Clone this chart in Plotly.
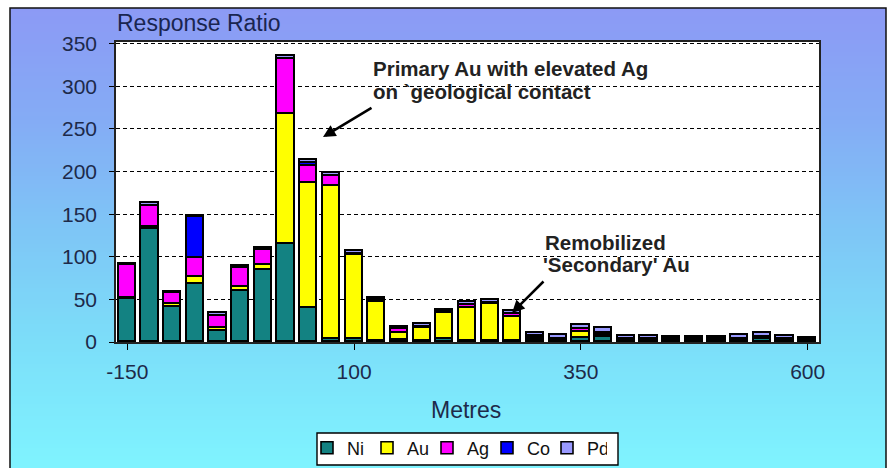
import plotly.graph_objects as go

# Sample positions along the traverse (metres)
metres = [-150, -125, -100, -75, -50, -25, 0, 25, 50, 75, 100, 125, 150, 175, 200,
          225, 250, 275, 300, 325, 350, 375, 400, 425, 450, 475, 500, 525, 550, 575, 600]

# Response ratios per element (stacked)
ni = [51, 133, 41, 68, 13, 60, 84, 115, 40, 3, 3, 1, 2, 1, 4,
      1, 1, 1, 2, 1, 5, 6, 1, 1, 1, 1, 1, 1, 4, 1, 1]
au = [1, 2, 4, 8, 3, 5, 6, 153, 147, 180, 99, 46, 9, 16, 30,
      39, 44, 28, 3, 2, 7, 2, 1, 1, 1, 1, 1, 1, 1, 1, 1]
ag = [38, 25, 12, 23, 15, 22, 18, 64, 19, 12, 1, 2, 4, 1, 1,
      4, 1, 4, 2, 1, 3, 2, 1, 1, 1, 1, 1, 2, 1, 1, 1]
co = [0, 0, 0, 48, 0, 0, 0, 0, 4, 0, 0, 0, 0, 0, 0,
      0, 0, 0, 0, 0, 0, 0, 0, 0, 0, 0, 0, 0, 0, 0, 0]
pd_ = [2, 3, 2, 1, 3, 2, 2, 3, 4, 3, 4, 3, 3, 3, 3,
       3, 3, 3, 4, 4, 5, 6, 4, 4, 3, 3, 3, 4, 4, 4, 2]

series = [("Ni", ni, "#138282"), ("Au", au, "#FFFF00"), ("Ag", ag, "#FF00FF"),
          ("Co", co, "#0000FF"), ("Pd", pd_, "#9999FF")]

y_ticks = [0, 50, 100, 150, 200, 250, 300, 350]
x_ticks = [-150, 100, 350, 600]

W, H = 890, 468
FONT = "Liberation Sans, Arial, sans-serif"
TXT = "#1d2a4a"


def px_x(p):
    return p / W


def px_y(p):
    return 1 - p / H


fig = go.Figure()
for name, vals, color in series:
    fig.add_trace(go.Bar(
        x=metres, y=vals, name=name, width=19,
        marker=dict(color=color, line=dict(color="black", width=1.6)),
    ))

# Background: vertical blue-to-cyan gradient inside a framed panel
stops = [(8, (0x8C, 0x9A, 0xF5)), (120, (0x84, 0xAC, 0xF5)), (230, (0x7E, 0xC6, 0xF6)),
         (340, (0x7C, 0xDE, 0xF9)), (468, (0x7F, 0xF4, 0xFF))]
shapes = []
step = 4
py = 8
while py < H:
    for (a, ca), (b, cb) in zip(stops[:-1], stops[1:]):
        if a <= py <= b:
            t = (py - a) / (b - a)
            c = tuple(round(ca[i] + (cb[i] - ca[i]) * t) for i in range(3))
            break
    shapes.append(dict(type="rect", xref="paper", yref="paper", layer="below",
                       x0=px_x(10), x1=px_x(886), y0=px_y(min(py + step + 1, H)), y1=px_y(py),
                       fillcolor="rgb(%d,%d,%d)" % c, line=dict(width=0)))
    py += step

# White plot area
shapes.append(dict(type="rect", xref="paper", yref="paper", layer="below",
                   x0=px_x(116), x1=px_x(819), y0=px_y(342), y1=px_y(42),
                   fillcolor="white", line=dict(width=0)))
# Legend box (legend entries are drawn on top of it)
shapes.append(dict(type="rect", xref="paper", yref="paper", layer="below",
                   x0=px_x(317), x1=px_x(618), y0=px_y(465), y1=px_y(433),
                   fillcolor="white", line=dict(color="black", width=1.4)))
# Outer frame
shapes.append(dict(type="rect", xref="paper", yref="paper", layer="above",
                   x0=px_x(10), x1=px_x(886), y0=px_y(470), y1=px_y(8),
                   fillcolor="rgba(0,0,0,0)", line=dict(color="#111", width=1.5)))

annotations = [
    dict(text="Response Ratio", xref="paper", yref="paper", x=px_x(115), y=px_y(23),
         xanchor="left", yanchor="middle", showarrow=False,
         font=dict(family=FONT, size=23, color="#1a2550")),
    dict(text="Metres", xref="paper", yref="paper", x=px_x(466), y=px_y(410),
         xanchor="center", yanchor="middle", showarrow=False,
         font=dict(family=FONT, size=23, color=TXT)),
    dict(text="<b>Primary Au with elevated Ag</b>", xref="paper", yref="paper",
         x=px_x(371), y=px_y(68), xanchor="left", yanchor="middle", showarrow=False,
         font=dict(family=FONT, size=20.5, color="#222")),
    dict(text="<b>on `geological contact</b>", xref="paper", yref="paper",
         x=px_x(371), y=px_y(92), xanchor="left", yanchor="middle", showarrow=False,
         font=dict(family=FONT, size=20.5, color="#222")),
    dict(text="<b>Remobilized</b>", xref="paper", yref="paper",
         x=px_x(543), y=px_y(242), xanchor="left", yanchor="middle", showarrow=False,
         font=dict(family=FONT, size=20.5, color="#222")),
    dict(text="<b>'Secondary' Au</b>", xref="paper", yref="paper",
         x=px_x(541), y=px_y(264), xanchor="left", yanchor="middle", showarrow=False,
         font=dict(family=FONT, size=20.5, color="#222")),
    dict(text="", xref="paper", yref="paper", x=px_x(323), y=px_y(137),
         ax=50, ay=-30, showarrow=True, arrowhead=2, arrowsize=1, arrowwidth=2.5,
         arrowcolor="black"),
    dict(text="", xref="paper", yref="paper", x=px_x(512), y=px_y(313),
         ax=33, ay=-33, showarrow=True, arrowhead=2, arrowsize=1, arrowwidth=2.5,
         arrowcolor="black"),
]

fig.update_layout(
    width=W, height=H,
    margin=dict(l=0, r=0, t=0, b=0, autoexpand=False),
    paper_bgcolor="white",
    plot_bgcolor="rgba(0,0,0,0)",
    barmode="stack",
    bargap=0,
    shapes=shapes,
    annotations=annotations,
    showlegend=True,
    legend=dict(orientation="h", x=px_x(457), xanchor="center", y=px_y(448), yanchor="middle",
                bgcolor="rgba(0,0,0,0)", borderwidth=0,
                font=dict(family=FONT, size=18, color="#111"),
                itemwidth=30, traceorder="normal", entrywidth=15, tracegroupgap=0),
    xaxis=dict(domain=[px_x(116), px_x(819)], range=[-162.5, 612.5], automargin=False,
               tickvals=x_ticks, ticktext=[str(v) for v in x_ticks],
               ticks="outside", ticklen=6, tickcolor="black", tickwidth=1,
               showline=True, linecolor="#222", linewidth=1.5, mirror=True,
               showgrid=False, zeroline=False, ticklabelstandoff=4,
               tickfont=dict(family=FONT, size=21, color=TXT)),
    yaxis=dict(domain=[px_y(342), px_y(42)], range=[0, 352], automargin=False,
               tickvals=y_ticks, ticks="outside", ticklen=5, tickcolor="black", tickwidth=1,
               showline=True, linecolor="#222", linewidth=1.5, mirror=True,
               showgrid=True, gridcolor="black", gridwidth=1, griddash="4px,3px",
               zeroline=False, ticklabelstandoff=8,
               tickfont=dict(family=FONT, size=21, color=TXT)),
)

fig.write_html("out.html")
